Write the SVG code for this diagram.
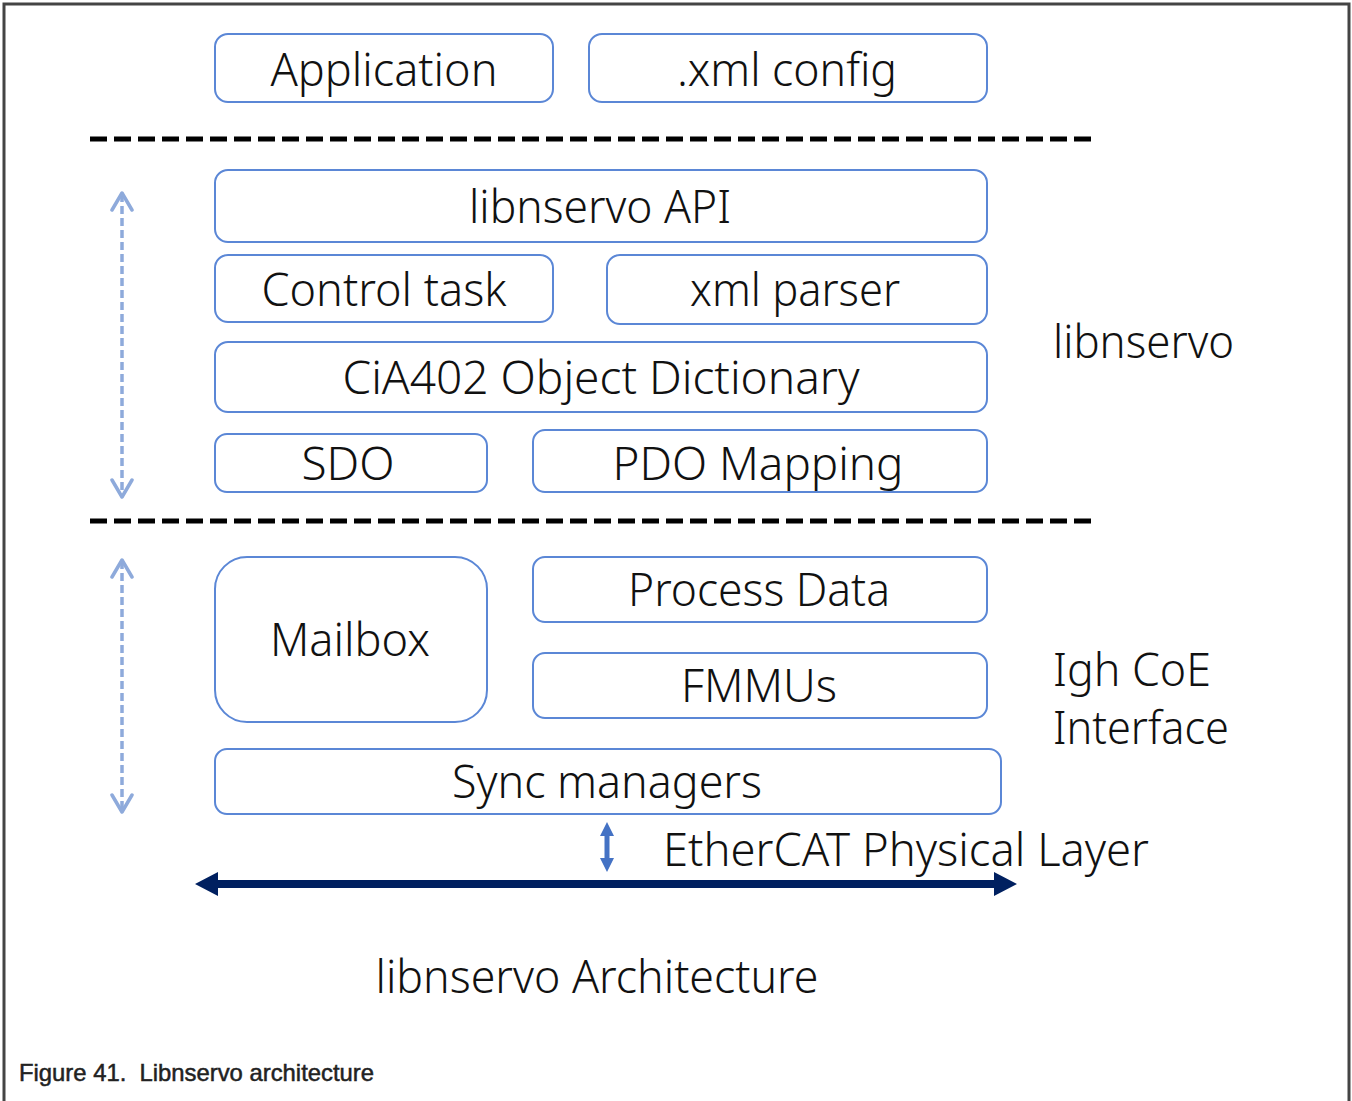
<svg xmlns="http://www.w3.org/2000/svg" width="1352" height="1101" viewBox="0 0 1352 1101">
<style>
.box{fill:#fff;stroke:#5b87d6;stroke-width:2}
.t{font-family:"Noto Sans","Open Sans",sans-serif;font-size:46px;font-weight:300;fill:#111;text-anchor:middle}
.s{font-family:"Noto Sans","Open Sans",sans-serif;font-size:46px;font-weight:300;fill:#111}
.sep{stroke:#000;stroke-width:5;stroke-dasharray:17 7;fill:none}
.da{stroke:#8eaadb;stroke-width:3.5;stroke-dasharray:8 4;fill:none}
.ah{stroke:#8eaadb;stroke-width:3.5;fill:none;stroke-linecap:round;stroke-linejoin:round}
</style>
<rect width="1352" height="1101" fill="#fff"/>
<path d="M4,1101 V4 H1349 V1101" fill="none" stroke="#444" stroke-width="3"/>
<g id="sep1"><line class="sep" x1="90" y1="139" x2="1093" y2="139"/></g>
<g id="sep2"><line class="sep" x1="90" y1="521" x2="1093" y2="521"/></g>
<g id="application"><rect class="box" x="215" y="34" width="338" height="68" rx="13"/><text class="t" x="384" y="86" textLength="227" lengthAdjust="spacingAndGlyphs">Application</text></g>
<g id="xmlconfig"><rect class="box" x="589" y="34" width="398" height="68" rx="13"/><text class="t" x="787" y="86" textLength="220" lengthAdjust="spacingAndGlyphs">.xml config</text></g>
<g id="api"><rect class="box" x="215" y="170" width="772" height="72" rx="13"/><text class="t" x="600" y="223" textLength="262" lengthAdjust="spacingAndGlyphs">libnservo API</text></g>
<g id="control"><rect class="box" x="215" y="255" width="338" height="67" rx="13"/><text class="t" x="384" y="306" textLength="245" lengthAdjust="spacingAndGlyphs">Control task</text></g>
<g id="xmlparser"><rect class="box" x="607" y="255" width="380" height="69" rx="13"/><text class="t" x="795" y="306" textLength="210" lengthAdjust="spacingAndGlyphs">xml parser</text></g>
<g id="cia402"><rect class="box" x="215" y="342" width="772" height="70" rx="13"/><text class="t" x="601" y="394" textLength="517" lengthAdjust="spacingAndGlyphs">CiA402 Object Dictionary</text></g>
<g id="sdo"><rect class="box" x="215" y="434" width="272" height="58" rx="12"/><text class="t" x="348" y="480" textLength="93" lengthAdjust="spacingAndGlyphs">SDO</text></g>
<g id="pdo"><rect class="box" x="533" y="430" width="454" height="62" rx="12"/><text class="t" x="758" y="480" textLength="291" lengthAdjust="spacingAndGlyphs">PDO Mapping</text></g>
<g id="mailbox"><rect class="box" x="215" y="557" width="272" height="165" rx="32"/><text class="t" x="350" y="656" textLength="160" lengthAdjust="spacingAndGlyphs">Mailbox</text></g>
<g id="processdata"><rect class="box" x="533" y="557" width="454" height="65" rx="12"/><text class="t" x="759" y="606" textLength="262" lengthAdjust="spacingAndGlyphs">Process Data</text></g>
<g id="fmmus"><rect class="box" x="533" y="653" width="454" height="65" rx="12"/><text class="t" x="759" y="702" textLength="156" lengthAdjust="spacingAndGlyphs">FMMUs</text></g>
<g id="sync"><rect class="box" x="215" y="749" width="786" height="65" rx="12"/><text class="t" x="607" y="798" textLength="310" lengthAdjust="spacingAndGlyphs">Sync managers</text></g>
<g id="labels">
<text class="s" x="1053" y="358" textLength="181" lengthAdjust="spacingAndGlyphs">libnservo</text>
<text class="s" x="1053" y="686" textLength="158" lengthAdjust="spacingAndGlyphs">Igh CoE</text>
<text class="s" x="1053" y="744" textLength="176" lengthAdjust="spacingAndGlyphs">Interface</text>
<text class="s" x="663" y="866" textLength="486" lengthAdjust="spacingAndGlyphs">EtherCAT Physical Layer</text>
<text class="t" x="597" y="993" textLength="443" lengthAdjust="spacingAndGlyphs">libnservo Architecture</text>
</g>
<g id="connectors">
<line class="da" x1="122" y1="194" x2="122" y2="494"/>
<path class="ah" d="M112,210 L122,193 L132,210 M112,480 L122,497 L132,480"/>
<line class="da" x1="122" y1="561" x2="122" y2="810"/>
<path class="ah" d="M112,577 L122,560 L132,577 M112,795 L122,812 L132,795"/>
<path d="M607,822 L614,836 L609.5,836 L609.5,858 L614,858 L607,872 L600,858 L604.5,858 L604.5,836 L600,836 Z" fill="#4472c4"/>
<line x1="215" y1="884" x2="997" y2="884" stroke="#002060" stroke-width="8"/>
<path d="M195,884 L218,872 L218,896 Z M1017,884 L994,872 L994,896 Z" fill="#002060"/>
</g>
<text x="19" y="1081" font-family="Liberation Sans,Arial,sans-serif" font-size="24" fill="#222" stroke="#222" stroke-width="0.5" xml:space="preserve" textLength="355" lengthAdjust="spacingAndGlyphs">Figure 41.  Libnservo architecture</text>
</svg>
